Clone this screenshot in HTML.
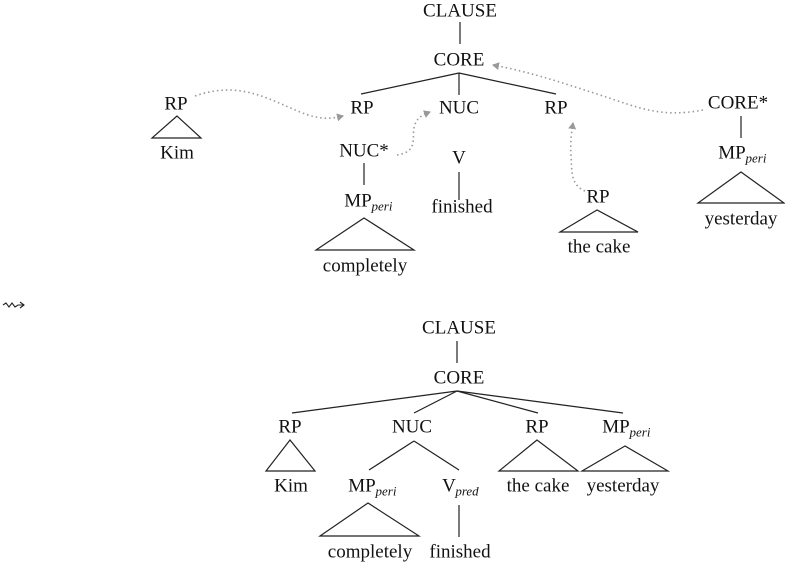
<!DOCTYPE html>
<html><head><meta charset="utf-8"><style>
html,body{margin:0;padding:0;background:#fff;}
svg{display:block;}
text{font-family:"Liberation Serif",serif;font-size:19px;fill:#111;text-anchor:middle;dominant-baseline:central;}
.s{font-size:13px;font-style:italic;}
line,polygon{stroke:#222;stroke-width:1.2;fill:none;}
.d{stroke:#999;stroke-width:1.6;stroke-dasharray:1.5 3;fill:none;}
</style></head><body>
<svg width="785" height="563" viewBox="0 0 785 563">
<defs><marker id="a" markerWidth="8" markerHeight="8" refX="6" refY="4" orient="auto" markerUnits="userSpaceOnUse"><path d="M0,0 L7,4 L0,8 Z" fill="#999"/></marker></defs>
<!-- top tree -->
<text x="460" y="11">CLAUSE</text>
<line x1="460" y1="22" x2="460" y2="44"/>
<text x="459" y="60">CORE</text>
<line x1="459" y1="73" x2="361" y2="94"/>
<line x1="459" y1="73" x2="459" y2="95"/>
<line x1="459" y1="73" x2="556" y2="94"/>
<text x="176" y="104">RP</text>
<polygon points="177,116 152,138 201,138"/>
<text x="177" y="153">Kim</text>
<text x="362" y="108">RP</text>
<text x="459" y="108">NUC</text>
<text x="556" y="108">RP</text>
<text x="364" y="151">NUC*</text>
<line x1="364" y1="163" x2="364" y2="185"/>
<text x="358" y="201">MP</text><text class="s" x="382" y="206">peri</text>
<polygon points="364,218 316,250 414,250"/>
<text x="365" y="266">completely</text>
<text x="459" y="158">V</text>
<line x1="459" y1="172" x2="459" y2="200"/>
<text x="462" y="207">finished</text>
<text x="598" y="197">RP</text>
<polygon points="597,210 560,232 638,232"/>
<text x="599" y="247">the cake</text>
<text x="738" y="103">CORE*</text>
<line x1="741" y1="116" x2="741" y2="138"/>
<text x="732" y="153">MP</text><text class="s" x="756" y="158">peri</text>
<polygon points="741,172 698,203 784,203"/>
<text x="741" y="219">yesterday</text>
<path class="d" d="M195,96 C240,80 270,100 300,112 C320,120 330,119 343,116" marker-end="url(#a)"/>
<path class="d" d="M397,155 C418,152 412,138 414,128 C416,118 422,115 430,112" marker-end="url(#a)"/>
<path class="d" d="M585,191 C570,185 572,170 571,155 C570,140 572,130 573,123" marker-end="url(#a)"/>
<path class="d" d="M703,110 C660,118 640,108 600,95 C560,82 530,72 493,65" marker-end="url(#a)"/>
<!-- squiggle -->
<path d="M3,305 L6,303 L9,307 L12,303 L15,307 L18,305 L23,305" stroke="#222" stroke-width="1.1" fill="none"/>
<path d="M20,302 L24,305 L20,308" stroke="#222" stroke-width="1.1" fill="none"/>
<!-- bottom tree -->
<text x="459" y="328">CLAUSE</text>
<line x1="457" y1="341" x2="457" y2="363"/>
<text x="459" y="378">CORE</text>
<line x1="457" y1="391" x2="292" y2="413"/>
<line x1="457" y1="391" x2="414" y2="413"/>
<line x1="457" y1="391" x2="538" y2="413"/>
<line x1="457" y1="391" x2="623" y2="413"/>
<text x="290" y="427">RP</text>
<text x="412" y="427">NUC</text>
<text x="537" y="427">RP</text>
<text x="616" y="427">MP</text><text class="s" x="640" y="432">peri</text>
<polygon points="290,440 266,471 315,471"/>
<text x="291" y="486">Kim</text>
<line x1="414" y1="441" x2="369" y2="470"/>
<line x1="414" y1="441" x2="459" y2="470"/>
<text x="362" y="486">MP</text><text class="s" x="386" y="491">peri</text>
<text x="449" y="486">V</text><text class="s" x="467" y="491">pred</text>
<polygon points="368,503 320,536 419,536"/>
<text x="370" y="552">completely</text>
<line x1="459" y1="505" x2="459" y2="537"/>
<text x="460" y="552">finished</text>
<polygon points="537,440 499,471 578,471"/>
<text x="538" y="486">the cake</text>
<polygon points="625,446 582,471 668,471"/>
<text x="623" y="486">yesterday</text>
</svg>
</body></html>
